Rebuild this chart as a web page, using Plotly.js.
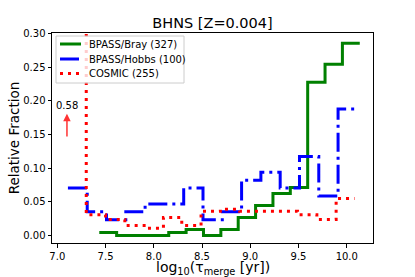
<!DOCTYPE html>
<html>
<head>
<meta charset="utf-8">
<script src="https://cdn.plot.ly/plotly-3.0.1.min.js"></script>
<style>
  html, body { margin: 0; padding: 0; background: #fff; }
  #chart { width: 415px; height: 277px; }
</style>
</head>
<body>
<div id="chart"></div>
<script>
// Bin edges (log10 tau_merge) and relative fractions
const brayEdges = [7.435, 7.615, 7.795, 7.975, 8.155, 8.335, 8.515, 8.695, 8.875, 9.055, 9.235, 9.415, 9.595, 9.775, 9.955, 10.135];
const brayVals  = [0.0045, 0, 0, 0, 0.0045, 0.0089, 0, 0.0089, 0.0268, 0.0446, 0.0625, 0.0714, 0.2277, 0.2545, 0.2857];

const hobbsEdges = [7.11, 7.31, 7.51, 7.71, 7.91, 8.11, 8.31, 8.51, 8.71, 8.91, 9.11, 9.31, 9.51, 9.71, 9.91, 10.11];
const hobbsVals  = [0.0706, 0.0353, 0.0235, 0.0353, 0.0471, 0.0471, 0.0706, 0.0235, 0.0353, 0.0824, 0.0941, 0.0706, 0.1176, 0.0588, 0.1882];

const cosmicEdges = [7.10, 7.30, 7.50, 7.70, 7.90, 8.10, 8.29, 8.49, 8.69, 8.89, 9.09, 9.29, 9.49, 9.69, 9.89, 10.08];
const cosmicVals  = [0.58, 0.031, 0.024, 0.015, 0.011, 0.027, 0.015, 0.036, 0.039, 0.036, 0.036, 0.036, 0.031, 0.024, 0.055];

const seriesNames = ['BPASS/Bray (327)', 'BPASS/Hobbs (100)', 'COSMIC (255)'];
const seriesColors = ['#008000', '#0000ff', '#ff0000'];
const seriesDash = ['solid', '19px,5px,3px,5px', '3px,5px'];
const xTicks = [7.0, 7.5, 8.0, 8.5, 9.0, 9.5, 10.0];
const yTicks = [0.00, 0.05, 0.10, 0.15, 0.20, 0.25, 0.30];
const offscaleLabel = '0.58';

function stepY(vals) { return vals.concat([vals[vals.length - 1]]); }

const font = 'DejaVu Sans, Liberation Sans, sans-serif';
const edgesList = [brayEdges, hobbsEdges, cosmicEdges];
const valsList = [brayVals, hobbsVals, cosmicVals];

const traces = seriesNames.map((name, i) => ({
  x: edgesList[i], y: stepY(valsList[i]), name: name, type: 'scatter', mode: 'lines',
  showlegend: false,
  line: { shape: 'hv', color: seriesColors[i], width: 3, dash: seriesDash[i] }
}));

// Plot area in pixels: l=52, t=33, w=321, h=210
const L = 52, T = 33, W = 321, H = 210;
const px = x => (x - L) / W;
const py = y => 1 - (y - T) / H;

const shapes = [
  { type: 'rect', xref: 'paper', yref: 'paper', x0: px(56), x1: px(184), y0: py(83), y1: py(36),
    line: { color: '#cccccc', width: 1 }, fillcolor: 'rgba(255,255,255,0.8)', layer: 'above' }
];
const legendRows = [44, 59, 73.5];
const annotations = [];
seriesNames.forEach((name, i) => {
  shapes.push({ type: 'line', xref: 'paper', yref: 'paper', x0: px(60), x1: px(81), y0: py(legendRows[i]), y1: py(legendRows[i]),
    line: { color: seriesColors[i], width: 3, dash: seriesDash[i] }, layer: 'above' });
  annotations.push({ xref: 'paper', yref: 'paper', x: px(87), y: py(legendRows[i]), xanchor: 'left', yanchor: 'middle',
    text: name, showarrow: false, font: { family: font, size: 10, color: '#000' } });
});
annotations.push({
  x: 7.1, y: 0.181, xref: 'x', yref: 'y',
  ax: 7.1, ay: 0.145, axref: 'x', ayref: 'y',
  text: '', showarrow: true, arrowhead: 2, arrowsize: 1, arrowwidth: 1.5, arrowcolor: '#ff3333'
});
annotations.push({
  x: 7.1, y: 0.1936, xref: 'x', yref: 'y', yanchor: 'middle',
  text: offscaleLabel, showarrow: false,
  font: { family: font, size: 10, color: '#000' }
});
// x-axis title
annotations.push({
  xref: 'paper', yref: 'paper', x: 0.5, y: py(268), xanchor: 'center', yanchor: 'middle',
  text: 'log<sub>10</sub>(τ<sub>merge</sub> [yr])', showarrow: false,
  font: { family: font, size: 14, color: '#000' }
});

const layout = {
  width: 415, height: 277,
  margin: { l: L, r: 415 - L - W, t: T, b: 277 - T - H, pad: 0 },
  paper_bgcolor: '#ffffff', plot_bgcolor: '#ffffff',
  font: { family: font, size: 10, color: '#000' },
  showlegend: false,
  title: { text: 'BHNS [Z=0.004]', font: { family: font, size: 14.5, color: '#000' }, x: 0.5, xanchor: 'center', xref: 'paper', y: 0.918, yanchor: 'middle' },
  xaxis: {
    range: [6.945, 10.272], tickvals: xTicks, ticktext: xTicks.map(v => v.toFixed(1)),
    ticks: 'outside', ticklen: 3.5, tickwidth: 1, tickcolor: '#000',
    showline: true, linecolor: '#000', linewidth: 1, mirror: true,
    showgrid: false, zeroline: false,
    tickfont: { family: font, size: 10, color: '#000' }
  },
  yaxis: {
    range: [-0.011, 0.301], tickvals: yTicks, ticktext: yTicks.map(v => v.toFixed(2)),
    ticks: 'outside', ticklen: 3.5, tickwidth: 1, tickcolor: '#000',
    showline: true, linecolor: '#000', linewidth: 1, mirror: true,
    showgrid: false, zeroline: false,
    tickfont: { family: font, size: 10, color: '#000' },
    title: { text: 'Relative Fraction', font: { family: font, size: 13.5, color: '#000' }, standoff: 0 }
  },
  shapes: shapes,
  annotations: annotations
};

Plotly.newPlot('chart', traces, layout, { displayModeBar: false, staticPlot: true });
</script>
</body>
</html>
